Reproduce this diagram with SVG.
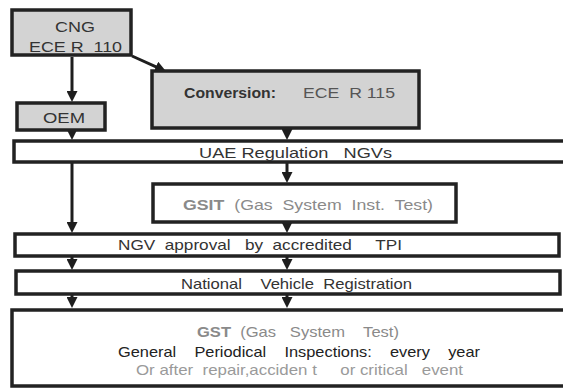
<svg xmlns="http://www.w3.org/2000/svg" width="563" height="388" viewBox="0 0 563 388">
<defs>
<marker id="ah" markerUnits="userSpaceOnUse" markerWidth="11" markerHeight="11" viewBox="0 0 11 11" refX="5" refY="5.5" orient="auto">
<path d="M0,0 L11,5.5 L0,11 z" fill="#1e1e1e"/>
</marker>
</defs>
<style>
.box{stroke:#222;stroke-width:3.5;}
.grey{fill:#d3d3d3;}
.white{fill:#fff;}
text{font-family:"Liberation Sans",Arial,sans-serif;font-size:15px;white-space:pre;}
.c{stroke:#1e1e1e;stroke-width:3;fill:none;marker-end:url(#ah);}
</style>
<rect width="563" height="388" fill="#fff"/>
<g id="connectors">
<path class="c" d="M72,57 V96"/>
<path class="c" d="M132,56 L160.5,68.8"/>
<path class="c" d="M72,131 V134"/>
<path class="c" d="M287,130 V134"/>
<path class="c" d="M72,163 V227"/>
<path class="c" d="M287,163 V177"/>
<path class="c" d="M287,223 V227"/>
<path class="c" d="M72,257 V264"/>
<path class="c" d="M287,257 V264"/>
<path class="c" d="M72,295 V302"/>
<path class="c" d="M287,295 V302"/>
</g>
<g id="cng">
<rect class="box grey" x="12" y="10" width="119" height="45"/>
<text x="55" y="32" fill="#333" font-size="16.5" textLength="40" lengthAdjust="spacingAndGlyphs">CNG</text>
<text x="29" y="52" fill="#333" font-size="16.5" textLength="93" lengthAdjust="spacingAndGlyphs">ECE R  110</text>
</g>
<g id="oem">
<rect class="box grey" x="17" y="103" width="88" height="27"/>
<text x="43" y="123" fill="#333" textLength="42" lengthAdjust="spacingAndGlyphs">OEM</text>
</g>
<g id="conversion">
<rect class="box grey" x="152" y="71" width="267" height="57"/>
<text x="184" y="98" font-weight="bold" fill="#333" textLength="92" lengthAdjust="spacingAndGlyphs">Conversion:</text>
<text x="303" y="98" fill="#555" textLength="92" lengthAdjust="spacingAndGlyphs">ECE  R 115</text>
</g>
<g id="uae">
<rect class="box white" x="14" y="141" width="560" height="21"/>
<text x="199" y="158" fill="#333" textLength="193" lengthAdjust="spacingAndGlyphs">UAE Regulation   NGVs</text>
</g>
<g id="gsit">
<rect class="box white" x="153" y="184" width="303" height="38"/>
<text x="183" y="210" fill="#8a8a8a" textLength="250" lengthAdjust="spacingAndGlyphs"><tspan font-weight="bold">GSIT</tspan>  (Gas  System  Inst.  Test)</text>
</g>
<g id="ngv">
<rect class="box white" x="15" y="234" width="544" height="22"/>
<text x="118" y="250" fill="#333" textLength="284" lengthAdjust="spacingAndGlyphs">NGV  approval   by  accredited     TPI</text>
</g>
<g id="nvr">
<rect class="box white" x="16" y="271" width="544" height="23"/>
<text x="181" y="289" fill="#333" textLength="231" lengthAdjust="spacingAndGlyphs">National    Vehicle  Registration</text>
</g>
<g id="gst">
<rect class="box white" x="12" y="310" width="560" height="76"/>
<text x="197" y="337" fill="#8a8a8a" textLength="202" lengthAdjust="spacingAndGlyphs"><tspan font-weight="bold">GST</tspan>  (Gas   System    Test)</text>
<text x="118" y="357" fill="#222" textLength="362" lengthAdjust="spacingAndGlyphs">General    Periodical    Inspections:    every    year</text>
<text x="136" y="375" fill="#9a9a9a" textLength="327" lengthAdjust="spacingAndGlyphs">Or after  repair,acciden t     or critical   event</text>
</g>
</svg>
